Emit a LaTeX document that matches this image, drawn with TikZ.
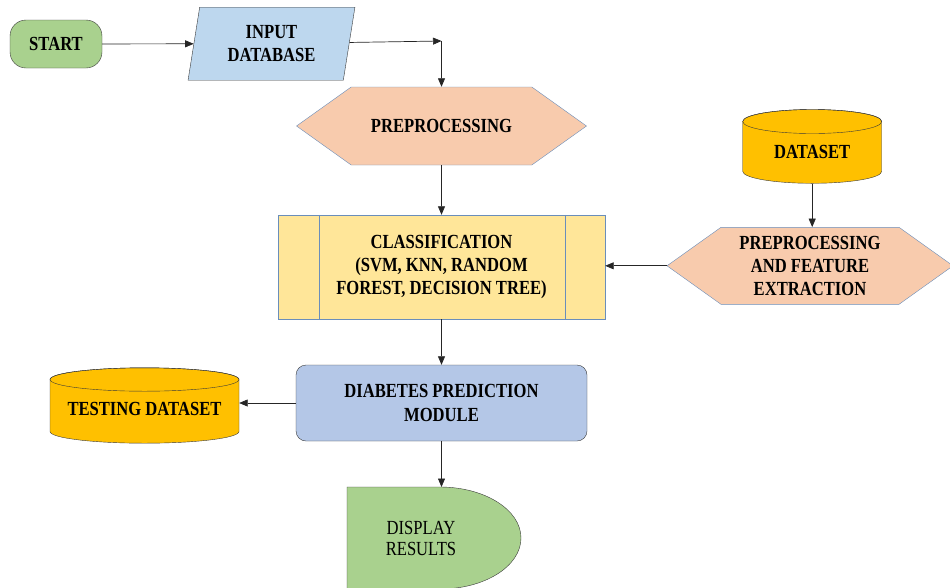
\documentclass[tikz,border=0pt]{standalone}
\usepackage{fontspec}
\setmainfont{Liberation Serif}[FakeStretch=0.83]
\usetikzlibrary{arrows.meta, positioning, shapes.geometric, shapes.symbols}

\definecolor{termgreen}{HTML}{A9D18E}
\definecolor{inputblue}{HTML}{BDD7EE}
\definecolor{prepeach}{HTML}{F8CBAD}
\definecolor{classyellow}{HTML}{FFE699}
\definecolor{drumgold}{HTML}{FFC000}
\definecolor{modblue}{HTML}{B4C7E7}
\definecolor{edgeblue}{HTML}{6A8EBB}
\definecolor{edgedark}{HTML}{3A3A3A}

\begin{document}
\begin{tikzpicture}[
    x=1pt, y=-1pt,
    lbl/.style={font=\fontsize{20}{23.3}\selectfont\bfseries, align=center, text=black},
    terminal/.style={lbl, rectangle, rounded corners=16pt, draw=edgedark, fill=termgreen,
                     minimum width=92pt, minimum height=48pt},
    iobox/.style={lbl, trapezium, trapezium left angle=79, trapezium right angle=101,
                  trapezium stretches=true, draw=edgedark, fill=inputblue,
                  minimum width=167pt, minimum height=73pt, inner sep=0pt},
    prepbox/.style={lbl, signal, signal to=west and east, signal pointer angle=71,
                    draw=edgeblue, fill=prepeach, inner sep=0pt},
    procbox/.style={lbl, rectangle, draw=edgeblue, fill=classyellow,
                    minimum width=327pt, minimum height=104pt},
    module/.style={lbl, rectangle, rounded corners=10pt, draw=edgedark, fill=modblue,
                   minimum width=291pt, minimum height=76pt},
    drumtext/.style={lbl, rectangle, inner sep=0pt},
    drum/.style={draw=edgedark, fill=drumgold},
    arr/.style={-{Triangle[length=8.5pt, width=7pt]}, line width=0.7pt, black!85},
]
\useasboundingbox (0,0) rectangle (950,587);

% Start and input
\node[terminal] (start) at (56,44) {START};
\node[iobox] (input) at (271.5,43.7) {INPUT\\DATABASE};
\coordinate (bend) at (441.5,41);

% Main column
\node[prepbox, minimum width=290pt, minimum height=78pt] (prep) at (441.5,126) {PREPROCESSING};
\node[procbox] (class) at (441.5,267) {CLASSIFICATION\\(SVM, KNN, RANDOM\\FOREST, DECISION TREE)};
\draw[edgeblue] ([xshift=41pt]class.north west) -- ([xshift=41pt]class.south west);
\draw[edgeblue] ([xshift=-40pt]class.north east) -- ([xshift=-40pt]class.south east);
\node[module] (dpm) at (441.5,403) {DIABETES PREDICTION\\MODULE};

% Display results
\coordinate (disptop) at (441.5,487);
\filldraw[draw=edgedark, fill=termgreen] (347,589) -- (347,487) -- (440,487)
    arc[start angle=90, end angle=-90, x radius=81pt, y radius=51pt] -- cycle;
\node[lbl, font=\fontsize{20}{21}\selectfont] (display) at (421,538) {DISPLAY\\RESULTS};

% Dataset drum
\filldraw[drum] (742.7,121.5) -- (742.7,171.3)
    arc[start angle=180, end angle=360, x radius=69.5pt, y radius=12pt] -- (881.7,121.5)
    arc[start angle=0, end angle=180, x radius=69.5pt, y radius=12pt] -- cycle;
\draw[edgedark] (812.2,121.5) ellipse[x radius=69.5pt, y radius=12pt];
\node[drumtext, minimum width=139pt, minimum height=62.6pt] (dataset) at (812.2,152) {DATASET};

\node[prepbox, minimum width=286pt, minimum height=77pt] (pfe) at (810,265.8)
    {PREPROCESSING\\AND FEATURE\\EXTRACTION};

% Testing drum
\filldraw[drum] (50,379.5) -- (50,431.5)
    arc[start angle=180, end angle=360, x radius=94.5pt, y radius=11.7pt] -- (239,379.5)
    arc[start angle=0, end angle=180, x radius=94.5pt, y radius=11.7pt] -- cycle;
\draw[edgedark] (144.5,379.5) ellipse[x radius=94.5pt, y radius=11.7pt];
\node[drumtext, minimum width=189pt, minimum height=60pt] (testing) at (144.5,409) {TESTING DATASET};

% Arrows
\draw[arr] (start) -- (input);
\draw[arr] (input) -- (bend);
\draw[arr] (bend) -- (prep);
\draw[arr] (prep) -- (class);
\draw[arr] (class) -- (dpm);
\draw[arr] (dpm) -- (disptop);
\draw[arr] (dpm.west) -- (dpm.west -| testing.east);
\draw[arr] (dataset.south) -- (dataset.south |- pfe.north);
\draw[arr] (pfe.west) -- (pfe.west -| class.east);

\end{tikzpicture}
\end{document}
